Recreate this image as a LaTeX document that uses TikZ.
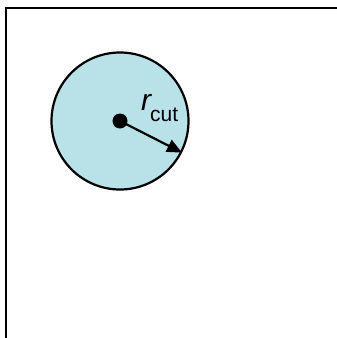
\documentclass[tikz,border=0pt]{standalone}
\usepackage{fontspec}
\setmainfont{Liberation Sans}
\usetikzlibrary{positioning,arrows.meta}
\definecolor{CutoffFill}{HTML}{B9E2E8}

\begin{document}
\begin{tikzpicture}[x=1pt,y=-1pt,
          frame/.style={line width=2.2pt,line cap=rect},
          ar/.style={-{Triangle[length=15pt,width=13pt]},line width=2.2pt}]
        \useasboundingbox (0,0) rectangle (337,338);
        % box corner
        \coordinate (fbottom) at (6,339);
        \coordinate (fcorner) at (6,8);
        \coordinate (fright) at (338,8);
        \draw[frame] (fbottom) -- (fcorner) -- (fright);
        % cutoff sphere
        \node[draw, line width=2.2pt, fill=CutoffFill, circle,
          minimum size=137pt, inner sep=0pt] (sphere) at (120,121) {};
        \node[fill=black, circle, minimum size=15pt, inner sep=0pt]
        (ctr) at (120,121) {};
        \draw[ar] (ctr.center) -- (sphere.-27);
        \node[anchor=base west, inner sep=0pt] (rcut) at (141,110)
        {\fontsize{30}{30}\selectfont\itshape r\upshape\hspace{-1pt}%
          \raisebox{-11pt}{\fontsize{21}{21}\selectfont cut}};
      \end{tikzpicture}
\end{document}
